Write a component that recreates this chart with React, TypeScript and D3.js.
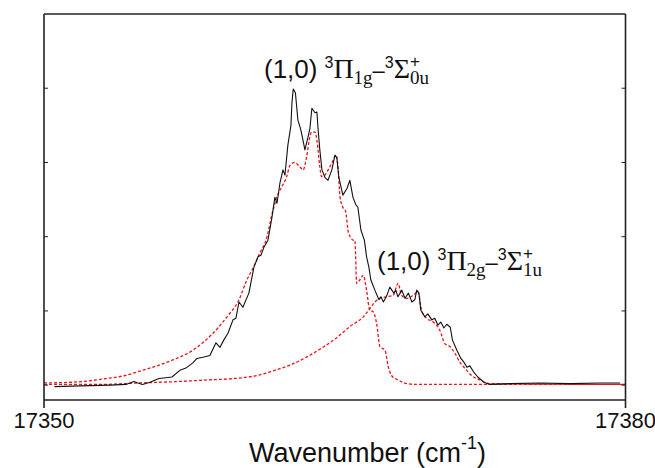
import * as d3 from 'd3';

// wavenumber (cm-1), intensity (arb. units)
const xTicks = [17350, 17380];
const yTicks = [0, 1, 2, 3, 4];

const experiment: [number, number][] = [
  [17350.54, -0.02], [17351.86, -0.01], [17353.4, 0.0], [17354.23, 0.01], [17354.64, 0.05], [17354.85, 0.03],
  [17355.08, 0.01], [17355.47, 0.04], [17355.93, 0.09], [17356.29, 0.1], [17356.6, 0.11], [17357.01, 0.2],
  [17357.32, 0.23], [17357.68, 0.3], [17357.89, 0.36], [17358.25, 0.38], [17358.56, 0.4], [17358.87, 0.57],
  [17359.08, 0.51], [17359.28, 0.61], [17359.49, 0.7], [17359.75, 0.88], [17359.9, 0.9], [17360.06, 1.12],
  [17360.26, 1.05], [17360.57, 1.24], [17360.83, 1.59], [17361.04, 1.73], [17361.19, 1.75], [17361.35, 1.86],
  [17361.55, 1.95], [17361.76, 2.26], [17361.91, 2.53], [17362.02, 2.45], [17362.17, 2.72], [17362.33, 2.9],
  [17362.43, 2.83], [17362.58, 3.23], [17362.74, 3.5], [17362.79, 3.8], [17362.86, 3.99], [17362.97, 3.94],
  [17363.1, 3.57], [17363.25, 3.44], [17363.36, 3.3], [17363.46, 3.17], [17363.62, 3.34], [17363.72, 3.46],
  [17363.82, 3.73], [17363.98, 3.67], [17364.08, 3.68], [17364.13, 3.48], [17364.23, 3.17], [17364.34, 2.9],
  [17364.49, 2.8], [17364.65, 2.76], [17364.85, 2.9], [17365.01, 3.1], [17365.11, 3.06], [17365.21, 2.8],
  [17365.42, 2.56], [17365.63, 2.65], [17365.78, 2.76], [17365.94, 2.53], [17366.09, 2.43], [17366.19, 2.4],
  [17366.35, 2.09], [17366.53, 1.95], [17366.64, 1.73], [17366.76, 1.59], [17366.86, 1.42], [17367.07, 1.28],
  [17367.28, 1.15], [17367.38, 1.19], [17367.51, 1.12], [17367.69, 1.21], [17367.84, 1.32], [17368.05, 1.24],
  [17368.15, 1.28], [17368.26, 1.19], [17368.46, 1.28], [17368.62, 1.17], [17368.8, 1.24], [17368.98, 1.12],
  [17369.13, 1.15], [17369.23, 1.28], [17369.34, 1.24], [17369.44, 1.01], [17369.65, 0.92], [17369.8, 0.96],
  [17370.01, 0.88], [17370.16, 0.9], [17370.32, 0.81], [17370.47, 0.85], [17370.63, 0.77], [17370.78, 0.82],
  [17370.96, 0.78], [17371.07, 0.61], [17371.3, 0.47], [17371.51, 0.36], [17371.66, 0.31], [17371.82, 0.24],
  [17371.97, 0.26], [17372.16, 0.18], [17372.38, 0.11], [17372.69, 0.04], [17373.0, 0.01], [17374.03, 0.02],
  [17375.58, 0.03], [17377.13, 0.02], [17378.67, 0.03], [17379.71, 0.03],
];

// simulated (1,0) 3Pi1g - 3Sigma0u+
const simPi1g: [number, number][] = [
  [17350.0, 0.03], [17351.5, 0.04], [17353.25, 0.09], [17354.18, 0.13], [17354.95, 0.19], [17355.83, 0.26],
  [17356.65, 0.34], [17357.68, 0.47], [17358.72, 0.7], [17359.44, 0.92], [17360.06, 1.15], [17360.47, 1.42],
  [17360.81, 1.59], [17361.13, 1.78], [17361.45, 1.95], [17361.78, 2.32], [17362.1, 2.59], [17362.22, 2.65],
  [17362.52, 2.81], [17362.69, 2.96], [17362.94, 3.0], [17363.2, 2.94], [17363.37, 2.9], [17363.55, 3.08],
  [17363.72, 3.35], [17363.81, 3.41], [17363.98, 3.41], [17364.09, 3.28], [17364.23, 2.94], [17364.32, 2.81],
  [17364.49, 2.83], [17364.66, 2.9], [17364.92, 3.03], [17365.06, 3.1], [17365.18, 2.9], [17365.27, 2.54],
  [17365.41, 2.4], [17365.56, 2.34], [17365.71, 2.05], [17365.99, 1.95], [17366.04, 1.95], [17366.13, 1.37],
  [17366.3, 1.42], [17366.47, 1.48], [17366.64, 1.28], [17366.81, 1.01], [17366.98, 0.99], [17367.16, 0.83],
  [17367.33, 0.52], [17367.59, 0.47], [17367.76, 0.25], [17367.93, 0.13], [17368.27, 0.07], [17368.71, 0.02],
  [17369.22, 0.01], [17380.0, 0.01],
];

// simulated (1,0) 3Pi2g - 3Sigma1u+
const simPi2g: [number, number][] = [
  [17350.0, 0.01], [17352.89, 0.01], [17354.95, 0.03], [17357.01, 0.05], [17358.41, 0.07], [17359.85, 0.09],
  [17360.99, 0.13], [17361.91, 0.2], [17362.69, 0.27], [17363.56, 0.38], [17364.39, 0.51], [17365.01, 0.62],
  [17365.78, 0.79], [17366.47, 0.92], [17366.81, 1.03], [17367.07, 1.12], [17367.33, 1.17], [17367.67, 1.19],
  [17368.01, 1.21], [17368.27, 1.37], [17368.45, 1.21], [17368.71, 1.17], [17369.05, 1.21], [17369.3, 1.26],
  [17369.48, 1.01], [17369.74, 0.9], [17370.08, 0.85], [17370.42, 0.74], [17370.68, 0.56], [17370.94, 0.52],
  [17371.2, 0.43], [17371.45, 0.31], [17371.71, 0.23], [17372.06, 0.13], [17372.49, 0.07], [17373.0, 0.02],
  [17380.0, 0.01],
];

const SANS = "'Liberation Sans', Arial, sans-serif";
const SERIF = "'Liberation Serif', 'Times New Roman', serif";

function Label({ x, y, pi, sigma }: { x: number; y: number; pi: string; sigma: string }) {
  // (1,0) ^3Pi_pi - ^3Sigma^+_sigma
  return (
    <text x={x} y={y} fontFamily={SANS} fontSize={26} fill="#111">
      (1,0)
      <tspan dx={7} dy={-10} fontSize={16}>3</tspan>
      <tspan dy={10} fontFamily={SERIF} fontSize={28}>Π</tspan>
      <tspan dy={6} fontFamily={SERIF} fontSize={19}>{pi}</tspan>
      <tspan dy={-6} fontSize={22}>–</tspan>
      <tspan dy={-10} fontSize={16}>3</tspan>
      <tspan dy={10} fontFamily={SERIF} fontSize={28}>Σ</tspan>
      <tspan dy={-11} fontSize={17}>+</tspan>
      <tspan dx={-10} dy={17} fontFamily={SERIF} fontSize={19}>{sigma}</tspan>
    </text>
  );
}

export default function App() {
  const width = 655;
  const height = 468;
  const margin = { top: 14, right: 29.5, bottom: 68, left: 44 };

  const x = d3.scaleLinear().domain([17350, 17380]).range([margin.left, width - margin.right]);
  const y = d3.scaleLinear().domain([-0.2, 5]).range([height - margin.bottom, margin.top]);

  const rawLine = d3.line<[number, number]>().x(d => x(d[0])).y(d => y(d[1]));
  const smoothLine = d3
    .line<[number, number]>()
    .x(d => x(d[0]))
    .y(d => y(d[1]))
    .curve(d3.curveMonotoneX);

  const x0 = margin.left;
  const x1 = width - margin.right;
  const yTop = margin.top;
  const yBot = height - margin.bottom;

  return (
    <svg
      width={width}
      height={height}
      style={{ position: 'absolute', left: 0, top: 0, background: '#fff' }}
    >
      <path d={smoothLine(simPi2g) ?? ''} fill="none" stroke="#e8141b" strokeWidth={1.3} strokeDasharray="3 2" />
      <path d={smoothLine(simPi1g) ?? ''} fill="none" stroke="#e8141b" strokeWidth={1.3} strokeDasharray="3 2" />
      <path d={rawLine(experiment) ?? ''} fill="none" stroke="#111" strokeWidth={1.1} strokeLinejoin="round" />

      {/* frame */}
      <line x1={x0} x2={x1} y1={yTop} y2={yTop} stroke="#222" strokeWidth={1.6} />
      <line x1={x0} x2={x1} y1={yBot} y2={yBot} stroke="#222" strokeWidth={1.6} />
      <line x1={x0} x2={x0} y1={yTop} y2={yBot} stroke="#222" strokeWidth={1.6} />
      <line x1={x1} x2={x1} y1={yTop} y2={yBot} stroke="#222" strokeWidth={1.6} />

      {yTicks.map(t => (
        <g key={t}>
          <line x1={x0} x2={x0 + 4} y1={y(t)} y2={y(t)} stroke="#222" strokeWidth={1} />
          <line x1={x1} x2={x1 - 4} y1={y(t)} y2={y(t)} stroke="#222" strokeWidth={1} />
        </g>
      ))}

      {xTicks.map(t => (
        <g key={t}>
          <line x1={x(t)} x2={x(t)} y1={yBot} y2={yBot + 8} stroke="#222" strokeWidth={1.6} />
          <text x={x(t)} y={428} textAnchor="middle" fontFamily={SANS} fontSize={22} fill="#111">
            {t}
          </text>
        </g>
      ))}

      <text x={249} y={462} fontFamily={SANS} fontSize={27} fill="#111">
        Wavenumber (cm
        <tspan dy={-13} fontSize={18}>-1</tspan>
        <tspan dy={13}>)</tspan>
      </text>

      <Label x={264} y={78} pi="1g" sigma="0u" />
      <Label x={377} y={270} pi="2g" sigma="1u" />
    </svg>
  );
}
